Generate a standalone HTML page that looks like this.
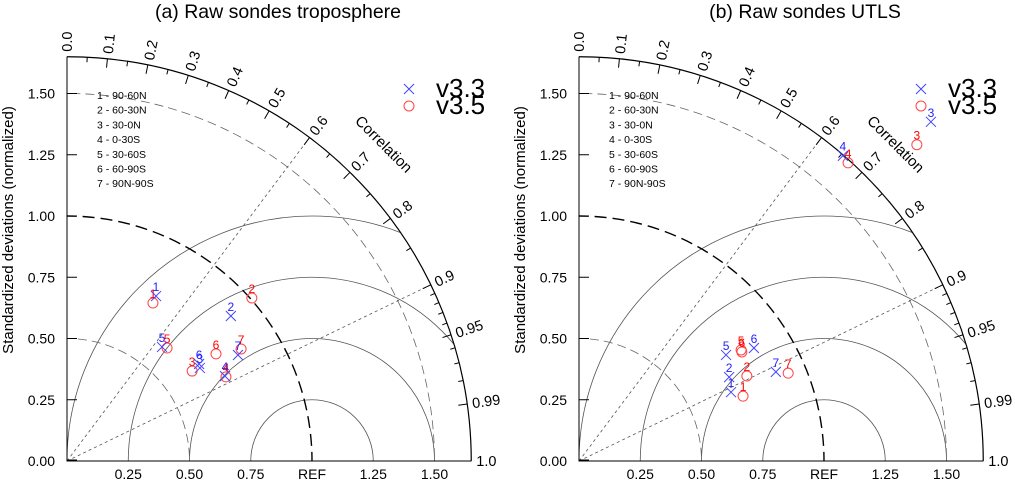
<!DOCTYPE html>
<html><head><meta charset="utf-8"><style>
html,body{margin:0;background:#fff;overflow:hidden;width:1015px;height:486px;}
svg{display:block;font-family:"Liberation Sans",sans-serif;}
</style></head><body>
<svg id="chart" width="1015" height="486" viewBox="0 0 1015 486" xmlns="http://www.w3.org/2000/svg"></svg>
<script>
const regionLabels = ["1 - 90-60N","2 - 60-30N","3 - 30-0N","4 - 0-30S","5 - 30-60S","6 - 60-90S","7 - 90N-90S"];
const stdTicks = ["0.00","0.25","0.50","0.75","1.00","1.25","1.50"];
const xTickLabels = ["0.25","0.50","0.75","REF","1.25","1.50"];
const corrMajor = [0.0,0.1,0.2,0.3,0.4,0.5,0.6,0.7,0.8,0.9,0.95,0.99,1.0];
const corrMajorLabels = ["0.0","0.1","0.2","0.3","0.4","0.5","0.6","0.7","0.8","0.9","0.95","0.99","1.0"];
// Panel (a) troposphere
const a_v33_std  = [0.765,0.893,0.662,0.732,0.606,0.669,0.821];
const a_v33_corr = [0.475,0.749,0.819,0.881,0.640,0.806,0.850];
const a_v35_std  = [0.734,1.006,0.629,0.734,0.616,0.749,0.845];
const a_v35_corr = [0.478,0.750,0.812,0.884,0.663,0.812,0.841];
// Panel (b) UTLS
const b_v33_std  = [0.681,0.702,1.995,1.647,0.740,0.850,0.882];
const b_v33_corr = [0.911,0.873,0.720,0.654,0.811,0.840,0.911];
const b_v35_std  = [0.720,0.768,1.889,1.639,0.802,0.800,0.926];
const b_v35_corr = [0.930,0.892,0.730,0.670,0.825,0.831,0.922];

const NS="http://www.w3.org/2000/svg";
const svg=document.getElementById('chart');
const S=245, RMAX=1.65, OY=461;
function mk(tag,attrs,parent){const e=document.createElementNS(NS,tag);for(const k in attrs)e.setAttribute(k,attrs[k]);(parent||svg).appendChild(e);return e;}

function panel(ox,title,titleDx,key,v33s,v33c,v35s,v35c){
  const g=mk('g',{});
  
  
  const px=(s,c)=>ox+s*c*S, py=(s,c)=>OY-s*Math.sqrt(Math.max(0,1-c*c))*S;
  const R=RMAX*S;
  const cid='clip'+key;
  const cp=mk('clipPath',{id:cid},g);
  mk('path',{d:`M${ox},${OY} L${ox+R},${OY} A${R},${R} 0 0 0 ${ox},${OY-R} Z`},cp);
  const inner=mk('g',{'clip-path':`url(#${cid})`},g);
  [0.25,0.5,0.75,1.0].forEach(r=>{
    const c=mk('circle',{cx:ox+S,cy:OY,r:r*S,fill:'none',stroke:'#555','stroke-width':0.8},inner);
    
    
  });
  [0.5,1.5].forEach(r=>{
    const c=mk('circle',{cx:ox,cy:OY,r:r*S,fill:'none',stroke:'#666','stroke-width':0.8,'stroke-dasharray':'9,5'},inner);
    
    
  });
  const refArc=mk('circle',{cx:ox,cy:OY,r:S,fill:'none',stroke:'#000','stroke-width':1.4,'stroke-dasharray':'12,6'},inner);
  
  
  [0.6,0.9].forEach(c=>{
    const l=mk('line',{x1:ox,y1:OY,x2:px(RMAX,c),y2:py(RMAX,c),stroke:'#555','stroke-width':0.8,'stroke-dasharray':'3,3'},g);
    
    
  });
  mk('path',{d:`M${ox},${OY-R} L${ox},${OY} L${ox+R},${OY}`,fill:'none',stroke:'#000','stroke-width':1},g);
  mk('path',{d:`M${ox+R},${OY} A${R},${R} 0 0 0 ${ox},${OY-R}`,fill:'none',stroke:'#000','stroke-width':1.2},g);
  mk('line',{x1:ox,y1:OY-1,x2:ox+10,y2:OY-1,stroke:'#000'},g);
  stdTicks.forEach((t,i)=>{
    const y=OY-i*0.25*S;
    if(i>0) mk('line',{x1:ox,y1:y,x2:ox+10,y2:y,stroke:'#000'},g);
    const tx=mk('text',{x:ox-12,y:y+5,'text-anchor':'end','font-size':14},g);tx.textContent=t;
    
    
  });
  xTickLabels.forEach((t,i)=>{
    const tx=mk('text',{x:ox+(i+1)*0.25*S,y:OY+18,'text-anchor':'middle','font-size':14},g);tx.textContent=t;
    
    
  });
  const minors=[0.05,0.15,0.25,0.35,0.45,0.55,0.65,0.75,0.85,0.91,0.92,0.93,0.94,0.96,0.97,0.98];
  minors.forEach(c=>{mk('line',{x1:px(RMAX,c),y1:py(RMAX,c),x2:px(RMAX-5/S,c),y2:py(RMAX-5/S,c),stroke:'#000'},g);});
  corrMajor.forEach((c,i)=>{
    mk('line',{x1:px(RMAX,c),y1:py(RMAX,c),x2:px(RMAX-9/S,c),y2:py(RMAX-9/S,c),stroke:'#000'},g);
    const th=Math.acos(c)*180/Math.PI;
    const rr=RMAX+5/S;
    const tx=mk('text',{x:0,y:0,'font-size':14.5,transform:`translate(${px(rr,c)},${py(rr,c)}) rotate(${-th}) translate(0,5)`},g);
    tx.textContent=corrMajorLabels[i];
    
    
  });
  const ca=45*Math.PI/180, cr=448;
  const ct=mk('text',{x:0,y:0,'font-size':15,'text-anchor':'middle',transform:`translate(${ox+cr*Math.cos(ca)},${OY-cr*Math.sin(ca)}) rotate(45) translate(0,5)`},g);
  ct.textContent='Correlation';
  
  
  const yt=mk('text',{x:0,y:0,'font-size':15,'text-anchor':'middle',transform:`translate(${ox-54},230) rotate(-90)`},g);
  yt.textContent='Standardized deviations (normalized)';
  
  
  const tt=mk('text',{x:ox+titleDx,y:18,'font-size':19.5,'text-anchor':'middle','xml:space':'preserve'},g);
  tt.textContent=title;
  
  
  regionLabels.forEach((t,i)=>{
    const tx=mk('text',{x:ox+30,y:99+i*14.7,'font-size':10.5},g);tx.textContent=t;
    
    
  });
  const lx=ox+342;
  mk('path',{d:`M${lx-5},${84} l10,10 M${lx+5},${84} l-10,10`,stroke:'#44f','stroke-width':1},g);
  mk('circle',{cx:lx,cy:106,r:5,fill:'none',stroke:'#f44','stroke-width':1},g);
  const l1=mk('text',{x:lx+27,y:97,'font-size':26},g);l1.textContent='v3.3';
  
  
  const l2=mk('text',{x:lx+27,y:114,'font-size':26},g);l2.textContent='v3.5';
  
  
  v35s.forEach((s,i)=>{
    const x=px(s,v35c[i]), y=py(s,v35c[i]);
    const m=mk('circle',{cx:x,cy:y,r:5,fill:'none',stroke:'#f44','stroke-width':1},g);
    
    
    const t=mk('text',{x:x,y:y-5,'font-size':12,'text-anchor':'middle',fill:'#f00'},g);t.textContent=String(i+1);
  });
  v33s.forEach((s,i)=>{
    const x=px(s,v33c[i]), y=py(s,v33c[i]);
    const m=mk('path',{d:`M${x-5},${y-5} l10,10 M${x+5},${y-5} l-10,10`,stroke:'#44f','stroke-width':1},g);
    
    
    const t=mk('text',{x:x,y:y-5,'font-size':12,'text-anchor':'middle',fill:'#22f'},g);t.textContent=String(i+1);
  });
}
panel(67,'(a) Raw sondes troposphere',211,'a',a_v33_std,a_v33_corr,a_v35_std,a_v35_corr);
panel(579,'(b)  Raw sondes UTLS',226,'b',b_v33_std,b_v33_corr,b_v35_std,b_v35_corr);
</script>
</body></html>
